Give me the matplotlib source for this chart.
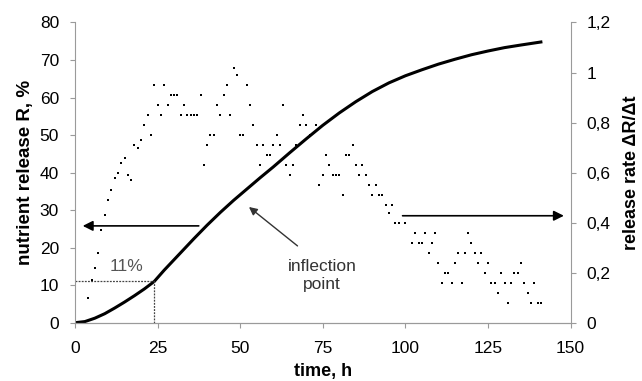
import matplotlib
matplotlib.use("Agg")
import matplotlib.pyplot as plt

plt.rcParams['font.family'] = ['Liberation Sans', 'DejaVu Sans']

# cumulative nutrient release R (%) vs time (h)
t_release = [0, 3, 6, 9, 12, 15, 18, 21, 24, 27, 30, 33, 36, 40, 44, 48, 52,
             56, 60, 65, 70, 75, 80, 85, 90, 95, 100, 105, 110, 115, 120, 125,
             130, 135, 141]
release = [0, 0.3, 1.2, 2.4, 3.9, 5.5, 7.2, 9.0, 11.0, 14.0, 16.8, 19.6,
           22.4, 26.0, 29.4, 32.6, 35.6, 38.6, 41.5, 45.3, 49.0, 52.6, 55.9,
           58.9, 61.6, 63.9, 65.8, 67.4, 68.9, 70.2, 71.4, 72.4, 73.3, 74.0,
           74.8]

# release rate dR/dt vs time (h)
t_rate = [4, 5, 6, 7, 8, 9, 10, 11, 12, 13, 14, 15, 16, 17, 18, 19, 20, 21,
          22, 23, 24, 25, 26, 27, 28, 29, 30, 31, 32, 33, 34, 35, 36, 37, 38,
          39, 40, 41, 42, 43, 44, 45, 46, 47, 48, 49, 50, 51, 52, 53, 54, 55,
          56, 57, 58, 59, 60, 61, 62, 63, 64, 65, 66, 67, 68, 69, 70, 71, 73,
          74, 75, 76, 77, 78, 79, 80, 81, 82, 83, 84, 85, 86, 87, 88, 89, 90,
          91, 92, 93, 94, 95, 96, 97, 98, 100, 102, 103, 104, 105, 106, 107,
          108, 109, 110, 111, 112, 113, 114, 115, 116, 117, 118, 119, 120,
          121, 122, 123, 124, 125, 126, 127, 128, 129, 130, 131, 132, 133,
          134, 135, 136, 137, 138, 139, 140, 141]
rate = [0.10, 0.17, 0.22, 0.28, 0.37, 0.43, 0.49, 0.53, 0.58, 0.60, 0.64,
        0.66, 0.59, 0.57, 0.71, 0.70, 0.73, 0.79, 0.83, 0.75, 0.95, 0.87,
        0.83, 0.95, 0.87, 0.91, 0.91, 0.91, 0.83, 0.87, 0.83, 0.83, 0.83,
        0.83, 0.91, 0.63, 0.71, 0.75, 0.75, 0.87, 0.83, 0.91, 0.95, 0.83,
        1.02, 0.99, 0.75, 0.75, 0.95, 0.87, 0.79, 0.71, 0.63, 0.71, 0.67,
        0.67, 0.71, 0.75, 0.71, 0.87, 0.63, 0.59, 0.63, 0.71, 0.79, 0.83,
        0.79, 0.75, 0.79, 0.55, 0.59, 0.67, 0.63, 0.59, 0.59, 0.59, 0.51,
        0.67, 0.67, 0.71, 0.63, 0.59, 0.63, 0.59, 0.55, 0.51, 0.55, 0.51,
        0.51, 0.47, 0.44, 0.47, 0.40, 0.40, 0.40, 0.32, 0.36, 0.32, 0.32,
        0.36, 0.28, 0.32, 0.36, 0.24, 0.16, 0.20, 0.20, 0.16, 0.24, 0.28,
        0.16, 0.28, 0.36, 0.32, 0.28, 0.24, 0.28, 0.20, 0.24, 0.16, 0.16,
        0.12, 0.20, 0.16, 0.08, 0.16, 0.20, 0.20, 0.24, 0.16, 0.12, 0.08,
        0.16, 0.08, 0.08]

x_ticks = [0, 25, 50, 75, 100, 125, 150]
left_ticks = [0, 10, 20, 30, 40, 50, 60, 70, 80]
right_ticks = [0, 0.2, 0.4, 0.6, 0.8, 1.0, 1.2]
right_labels = ['0', '0,2', '0,4', '0,6', '0,8', '1', '1,2']

t_mark, r_mark = 24, 11

fig = plt.figure(figsize=(6.42, 3.81), dpi=100)
ax = fig.add_axes([0.1168, 0.153, 0.772, 0.788])
ax2 = ax.twinx()

spine_col = '#9a9a9a'

# release rate (dots) on the right axis
ax2.plot(t_rate, rate, 's', color='black', markersize=1.9, markeredgewidth=0)
ax2.set_ylim(0, 1.2)
ax2.set_yticks(right_ticks)
ax2.set_yticklabels(right_labels)
ax2.set_ylabel('release rate \u0394R/\u0394t', fontsize=13, fontweight='bold',
               labelpad=9)

# cumulative release (line) on the left axis
ax.plot(t_release, release, color='black', linewidth=2.2)
ax.set_xlim(0, 150)
ax.set_ylim(0, 80)
ax.set_xticks(x_ticks)
ax.set_yticks(left_ticks)
ax.set_xlabel('time, h', fontsize=13, fontweight='bold', labelpad=5)
ax.set_ylabel('nutrient release R, %', fontsize=13.5, fontweight='bold',
              labelpad=4)

# 11 % marker
ax.plot([0, t_mark], [r_mark, r_mark], linestyle=(0, (1.5, 1)),
        color='#444444', linewidth=0.9)
ax.plot([t_mark, t_mark], [0, r_mark], linestyle=(0, (1.5, 1)),
        color='#444444', linewidth=0.9)
ax.text(15.5, 15, '11%', ha='center', va='center', fontsize=12.5,
        color='#555555')

# axis arrows
ax.annotate('', xy=(1.5, 25.8), xytext=(38.3, 25.8),
            arrowprops=dict(arrowstyle='-|>', color='black', lw=1.2,
                            mutation_scale=15))
ax.annotate('', xy=(148.8, 28.5), xytext=(98.3, 28.5),
            arrowprops=dict(arrowstyle='-|>', color='black', lw=1.2,
                            mutation_scale=15))

# inflection point
ax.annotate('', xy=(52, 31.3), xytext=(68, 20),
            arrowprops=dict(arrowstyle='-|>', color='#333333', lw=1.0,
                            mutation_scale=12))
ax.text(74.8, 12.6, 'inflection\npoint', ha='center', va='center',
        fontsize=12.5, color='#333333', linespacing=1.3)

for a in (ax, ax2):
    a.spines['top'].set_visible(False)
    for s in ('left', 'right', 'bottom'):
        a.spines[s].set_color(spine_col)
    a.tick_params(colors=spine_col, labelcolor='black', labelsize=12.5,
                  length=3.5, pad=8)
ax.tick_params(axis='x', pad=10)
ax2.spines['left'].set_visible(False)
ax.spines['right'].set_visible(False)

fig.savefig('out.png', dpi=100)
